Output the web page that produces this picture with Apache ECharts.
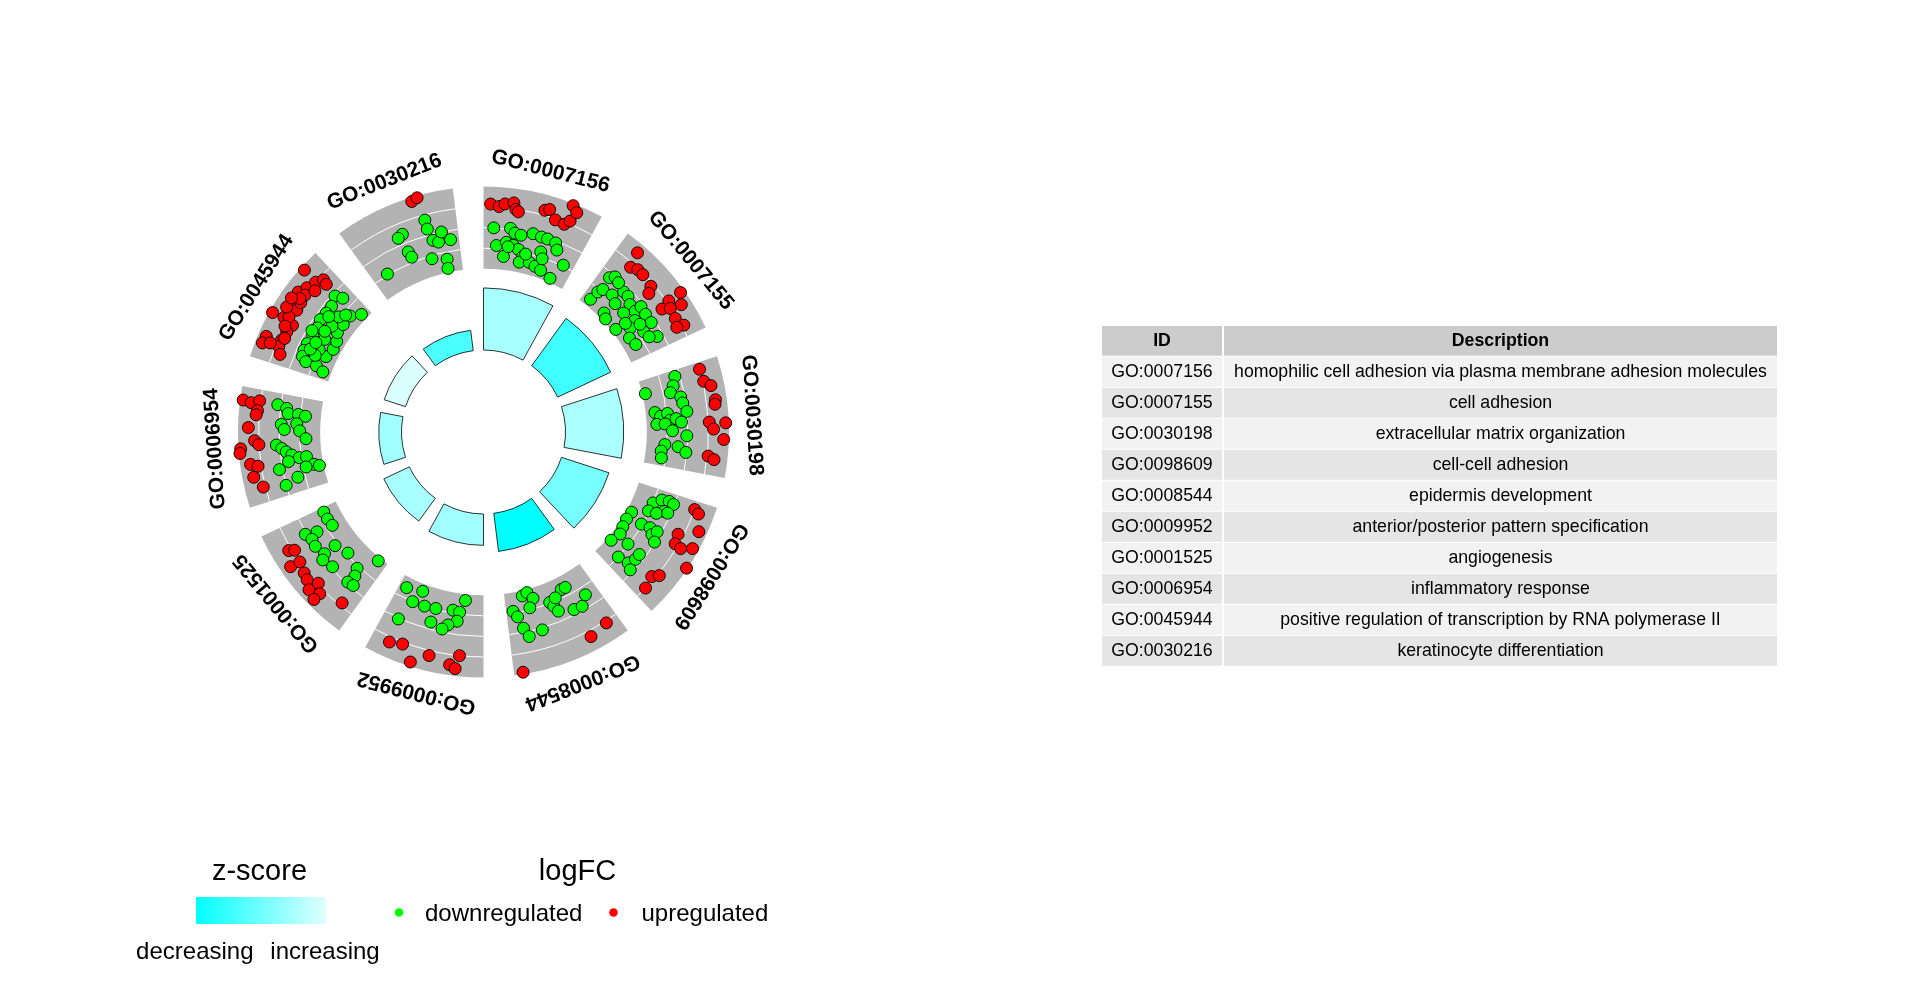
<!DOCTYPE html>
<html>
<head>
<meta charset="utf-8">
<script src="https://cdn.jsdelivr.net/npm/echarts@6.0.0/dist/echarts.min.js"></script>
<style>
html,body{margin:0;padding:0;background:#ffffff;}
#chart{width:1920px;height:992px;}
</style>
</head>
<body>
<div id="chart"></div>
<script>
// ---------------- DATA ----------------
const termIds = ['GO:0007156','GO:0007155','GO:0030198','GO:0098609','GO:0008544',
                 'GO:0009952','GO:0001525','GO:0006954','GO:0045944','GO:0030216'];
const termDescriptions = [
  'homophilic cell adhesion via plasma membrane adhesion molecules',
  'cell adhesion',
  'extracellular matrix organization',
  'cell-cell adhesion',
  'epidermis development',
  'anterior/posterior pattern specification',
  'angiogenesis',
  'inflammatory response',
  'positive regulation of transcription by RNA polymerase II',
  'keratinocyte differentiation'
];
// inner bars: significance (-log10 adjusted p) and z-score (colour)
const negLog10AdjP = [9.7, 9.15, 9.1, 7.8, 6.0, 4.9, 4.4, 3.55, 3.5, 3.2];
const zScores      = [-1.5, -4.3, -1.4, -2.8, -6.0, -1.7, -1.5, -1.7, -0.2, -4.0];
// outer ring: genes per term as [logFC, position within term]
const downPoints = [
  [[-1.0,.08],[-0.9,.21],[-1.3,.25],[-1.4,.30],[-1.0,.39],[-1.1,.46],[-1.1,.51],[-1.2,.58],[-1.8,.61],[-2.7,.11],[-3.7,.18],[-2.3,.19],[-2.5,.25],[-2.8,.30],[-3.4,.35],[-4.0,.33],[-3.8,.42],[-4.0,.48],[-4.2,.54],[-2.5,.49],[-3.1,.52],[-4.6,.65],[-2.9,.71],[-2.7,.21],[-3.1,.37]],
  [[-4.3,.08],[-3.3,.09],[-2.8,.11],[-1.5,.09],[-1.1,.12],[-2.6,.20],[-3.0,.27],[-1.6,.25],[-1.6,.30],[-2.0,.36],[-3.0,.38],[-2.0,.43],[-1.3,.43],[-1.4,.50],[-1.4,.58],[-1.6,.70],[-2.6,.49],[-3.4,.52],[-4.0,.59],[-3.8,.67],[-2.5,.61],[-2.3,.67],[-4.4,.26],[-4.7,.31],[-4.6,.45],[-1.3,.17],[-2.4,.54],[-3.5,.46]],
  [[-4.7,.13],[-1.5,.05],[-1.9,.12],[-2.3,.17],[-1.4,.22],[-1.3,.27],[-1.0,.34],[-4.1,.32],[-3.6,.36],[-2.9,.34],[-2.7,.40],[-2.1,.39],[-1.6,.42],[-4.0,.43],[-3.2,.43],[-2.5,.49],[-1.1,.53],[-1.9,.62],[-3.2,.61],[-3.5,.67],[-3.4,.73],[-1.1,.66]],
  [[-3.0,.13],[-2.3,.08],[-1.6,.07],[-1.1,.08],[-1.7,.16],[-3.1,.21],[-2.3,.20],[-1.3,.16],[-4.5,.29],[-4.6,.37],[-4.5,.45],[-4.3,.52],[-4.6,.62],[-3.1,.55],[-3.1,.34],[-2.2,.33],[-1.7,.37],[-1.4,.33],[-1.1,.41],[-3.0,.69],[-1.9,.67],[-1.6,.61],[-1.6,.56],[-1.3,.70]],
  [[-4.5,.63],[-4.7,.58],[-4.0,.54],[-3.2,.59],[-3.2,.74],[-2.6,.71],[-1.4,.68],[-0.5,.65],[-0.8,.54],[-3.1,.41],[-2.6,.39],[-2.0,.37],[-3.8,.27],[-3.8,.23],[-3.3,.35],[-1.5,.25],[-1.4,.18],[-2.2,.11]],
  [[-4.0,.73],[-4.3,.58],[-3.0,.63],[-3.0,.52],[-3.1,.42],[-4.4,.17],[-3.3,.27],[-3.2,.21],[-2.3,.22],[-1.8,.29],[-1.3,.33],[-1.7,.43],[-0.9,.68]],
  [[-3.5,.76],[-3.5,.69],[-3.6,.62],[-0.9,.67],[-2.0,.64],[-1.2,.61],[-1.1,.55],[-2.7,.46],[-3.2,.34],[-1.4,.46],[-0.9,.43],[-1.2,.34],[-4.7,.09],[-2.8,.19],[-2.1,.16],[-1.2,.17],[-1.3,.12]],
  [[-0.7,.71],[-1.6,.69],[-1.8,.65],[-1.2,.56],[-1.5,.52],[-2.8,.65],[-3.5,.64],[-2.7,.57],[-3.0,.51],[-3.6,.44],[-0.7,.40],[-1.2,.37],[-1.6,.34],[-2.1,.31],[-2.8,.28],[-3.5,.28],[-4.1,.20],[-4.6,.18],[-3.3,.19],[-0.7,.21],[-2.3,.12],[-1.0,.08],[-1.7,.26]],
  [[-1.3,.68],[-2.0,.71],[-3.7,.64],[-4.4,.72],[-1.7,.60],[-1.7,.53],[-1.6,.46],[-1.8,.39],[-1.8,.32],[-1.7,.24],[-1.7,.18],[-1.8,.13],[-2.3,.10],[-3.4,.10],[-4.2,.07],[-3.9,.21],[-4.2,.30],[-4.1,.38],[-3.7,.45],[-3.7,.54],[-3.0,.24],[-3.0,.34],[-1.5,.35],[-2.9,.47],[-2.9,.57],[-2.9,.18],[-2.2,.21],[-2.4,.28],[-2.6,.40],[-3.3,.62],[-2.1,.52]],
  [[0.5,.57],[-0.4,.57],[-0.1,.38],[-0.3,.34],[-1.9,.37],[-2.5,.38],[-1.6,.59],[-1.9,.63],[-1.0,.67],[-1.9,.73],[-3.3,.54],[-3.7,.67],[-4.6,.66],[-2.9,.13]]
];
const upPoints = [
  [[1.3,.05],[1.1,.11],[1.4,.15],[1.6,.21],[1.0,.23],[0.8,.25],[1.5,.43],[1.7,.46],[0.9,.52],[0.8,.59],[1.3,.62],[2.8,.60],[2.3,.64]],
  [[2.1,.13],[0.6,.16],[0.9,.21],[0.9,.26],[0.7,.36],[0.1,.39],[2.6,.52],[2.0,.59],[1.2,.52],[0.2,.54],[0.9,.57],[0.8,.65],[1.2,.72],[0.5,.71]],
  [[1.0,.05],[1.1,.14],[1.7,.18],[1.9,.28],[1.8,.31],[2.7,.44],[1.1,.43],[1.5,.48],[2.5,.55],[1.1,.67],[1.7,.69]],
  [[1.0,.06],[1.5,.08],[0.5,.27],[2.2,.19],[0.7,.34],[1.4,.35],[2.4,.31],[2.9,.44],[0.7,.63],[1.2,.59],[1.0,.72]],
  [[1.2,.09],[1.6,.23],[2.8,.74]],
  [[1.5,.67],[1.2,.58],[2.6,.49],[1.5,.38],[1.0,.17],[2.0,.23],[2.3,.19]],
  [[1.3,.63],[0.8,.61],[2.0,.53],[1.0,.52],[1.3,.44],[1.5,.39],[2.0,.33],[0.9,.32],[1.5,.26],[2.3,.26],[0.7,.10]],
  [[2.7,.71],[1.9,.70],[1.1,.72],[1.2,.65],[1.3,.62],[2.0,.53],[1.4,.44],[1.0,.41],[2.8,.39],[2.9,.36],[2.0,.28],[1.3,.26],[1.9,.19],[1.2,.11]],
  [[2.6,.67],[1.7,.53],[1.3,.59],[1.0,.66],[0.6,.71],[0.1,.70],[1.3,.45],[1.4,.38],[1.5,.33],[0.8,.42],[2.7,.32],[0.4,.31],[0.6,.25],[0.7,.18],[0.7,.13],[0.3,.08],[2.2,.16],[2.3,.11],[1.6,.13],[1.0,.54],[0.5,.61],[1.1,.35],[0.9,.48],[1.2,.50],[0.5,.20],[1.0,.28],[1.8,.40],[1.9,.47]],
  [[2.6,.52],[2.8,.56]]
];
const lfcRange = [-5, 3];
const lfcGridLines = [-3, -1, 1];
const zScoreRange = [-6, 0];
const legendLabels = {zTitle:'z-score', zLow:'decreasing', zHigh:'increasing', fcTitle:'logFC', down:'downregulated', up:'upregulated'};
const tableHeader = ['ID', 'Description'];

// ---------------- STYLE / LAYOUT ----------------
const CENTER = [483.5, 432];
const SEG_SPAN = 0.8;
const zColors = ['#00FFFF', '#E0FFFF'];
const DOWN_COLOR = '#00FF00', UP_COLOR = '#FF0000';
const FONT = '"Liberation Sans", Arial, Helvetica, sans-serif';

function toPolarData(pointsPerTerm) {
  const out = [];
  pointsPerTerm.forEach((pts, i) => pts.forEach(p => out.push([p[0], i + p[1]])));
  return out;
}

function renderSegment(params, api) {
  const i = api.value(1);
  const cs = params.coordSys;
  const cx = cs.cx, cy = cs.cy;
  const pt = (r, a) => api.coord([r, a]);
  const ang = p => Math.atan2(p[1] - cy, p[0] - cx);
  const dist = p => Math.hypot(p[0] - cx, p[1] - cy);
  const pIn = pt(lfcRange[0], i), pOut = pt(lfcRange[1], i), pEnd = pt(lfcRange[1], i + SEG_SPAN);
  const a0 = ang(pOut);
  let a1 = ang(pEnd);
  if (a1 < a0) a1 += Math.PI * 2;
  const children = [{
    type: 'sector',
    shape: {cx: cx, cy: cy, r0: dist(pIn), r: dist(pOut), startAngle: a0, endAngle: a1, clockwise: true},
    style: {fill: '#B3B3B3'}
  }];
  lfcGridLines.forEach(v => {
    children.push({
      type: 'arc',
      shape: {cx: cx, cy: cy, r: dist(pt(v, i)), startAngle: a0, endAngle: a1, clockwise: true},
      style: {stroke: '#FFFFFF', lineWidth: 1, fill: 'none'}
    });
  });
  const pMid = pt(lfcRange[1], i + SEG_SPAN / 2);
  const am = ang(pMid);
  const R = dist(pMid) + 23.5;
  children.push({
    type: 'text',
    x: cx + R * Math.cos(am),
    y: cy + R * Math.sin(am),
    rotation: -(am + Math.PI / 2),
    style: {text: termIds[i], fill: '#000', font: 'bold 21px ' + FONT, align: 'center', verticalAlign: 'middle'}
  });
  return {type: 'group', children: children};
}

// table graphic
function buildTable() {
  const els = [];
  const x0 = 1102, idW = 120, descX = 1224, descW = 553;
  const headY = 326, headH = 29.7, rowY0 = 356.7, rowH = 30, rowPitch = 31;
  const tFont = '17.7px ' + FONT, hFont = 'bold 17.7px ' + FONT;
  els.push({type:'rect', shape:{x:x0, y:headY, width:idW, height:headH}, style:{fill:'#CCCCCC'}});
  els.push({type:'rect', shape:{x:descX, y:headY, width:descW, height:headH}, style:{fill:'#CCCCCC'}});
  els.push({type:'text', x:x0 + idW/2, y:headY + headH/2, style:{text:tableHeader[0], font:hFont, fill:'#000', align:'center', verticalAlign:'middle'}});
  els.push({type:'text', x:descX + descW/2, y:headY + headH/2, style:{text:tableHeader[1], font:hFont, fill:'#000', align:'center', verticalAlign:'middle'}});
  termIds.forEach((id, k) => {
    const y = rowY0 + k * rowPitch;
    const fill = k % 2 === 0 ? '#F2F2F2' : '#E5E5E5';
    els.push({type:'rect', shape:{x:x0, y:y, width:idW, height:rowH}, style:{fill:fill}});
    els.push({type:'rect', shape:{x:descX, y:y, width:descW, height:rowH}, style:{fill:fill}});
    els.push({type:'text', x:x0 + idW/2, y:y + rowH/2, style:{text:id, font:tFont, fill:'#000', align:'center', verticalAlign:'middle'}});
    els.push({type:'text', x:descX + descW/2, y:y + rowH/2, style:{text:termDescriptions[k], font:tFont, fill:'#000', align:'center', verticalAlign:'middle'}});
  });
  return els;
}

function buildLegend() {
  const t = (text, x, y, size, align) => ({type:'text', x:x, y:y, style:{text:text, font:size + 'px ' + FONT, fill:'#000', align:align || 'center', verticalAlign:'middle'}});
  return [
    t(legendLabels.zTitle, 259.5, 872, 29),
    {type:'rect', shape:{x:196, y:897, width:130, height:27},
     style:{fill:new echarts.graphic.LinearGradient(0, 0, 1, 0, [{offset:0, color:zColors[0]}, {offset:1, color:zColors[1]}])}},
    t(legendLabels.zLow, 194.8, 952, 24),
    t(legendLabels.zHigh, 325, 952, 24),
    t(legendLabels.fcTitle, 577.5, 872, 29),
    {type:'circle', shape:{cx:399, cy:912.5, r:4.3}, style:{fill:DOWN_COLOR}},
    t(legendLabels.down, 425, 914, 24, 'left'),
    {type:'circle', shape:{cx:613.5, cy:912.5, r:4.3}, style:{fill:UP_COLOR}},
    t(legendLabels.up, 641.5, 914, 24, 'left')
  ];
}

const chart = echarts.init(document.getElementById('chart'), null, {renderer: 'canvas', width: 1920, height: 992});
const option = {
  animation: false,
  backgroundColor: '#FFFFFF',
  polar: [
    {center: CENTER, radius: [82, 146]},
    {center: CENTER, radius: [163.3, 245.5]}
  ],
  angleAxis: [
    {polarIndex: 0, type: 'category', data: termIds, startAngle: 90 + 36 * (1 - SEG_SPAN) / 2, clockwise: true, show: false},
    {polarIndex: 1, type: 'value', min: 0, max: termIds.length, startAngle: 90, clockwise: true, show: false}
  ],
  radiusAxis: [
    {polarIndex: 0, type: 'value', min: 0, max: 10, show: false},
    {polarIndex: 1, type: 'value', min: lfcRange[0], max: lfcRange[1], show: false}
  ],
  visualMap: {
    type: 'continuous', show: false, seriesIndex: 0, dimension: 2,
    min: zScoreRange[0], max: zScoreRange[1], inRange: {color: zColors}
  },
  series: [
    {
      type: 'bar', coordinateSystem: 'polar', polarIndex: 0,
      data: termIds.map((id, i) => [i, negLog10AdjP[i], zScores[i]]),
      encode: {angle: 0, radius: 1},
      barWidth: (SEG_SPAN * 100) + '%',
      itemStyle: {borderColor: '#000000', borderWidth: 0.8},
      silent: true
    },
    {
      type: 'custom', coordinateSystem: 'polar', polarIndex: 1,
      data: termIds.map((id, i) => [lfcRange[1], i]),
      encode: {radius: 0, angle: 1},
      renderItem: renderSegment, z: 1, silent: true
    },
    {
      type: 'scatter', name: legendLabels.down, coordinateSystem: 'polar', polarIndex: 1,
      data: toPolarData(downPoints), symbolSize: 12,
      itemStyle: {color: DOWN_COLOR, borderColor: '#000000', borderWidth: 0.9, opacity: 1},
      z: 3, silent: true
    },
    {
      type: 'scatter', name: legendLabels.up, coordinateSystem: 'polar', polarIndex: 1,
      data: toPolarData(upPoints), symbolSize: 12,
      itemStyle: {color: UP_COLOR, borderColor: '#000000', borderWidth: 0.9, opacity: 1},
      z: 4, silent: true
    }
  ],
  graphic: buildTable().concat(buildLegend())
};
chart.setOption(option);
</script>
</body>
</html>
